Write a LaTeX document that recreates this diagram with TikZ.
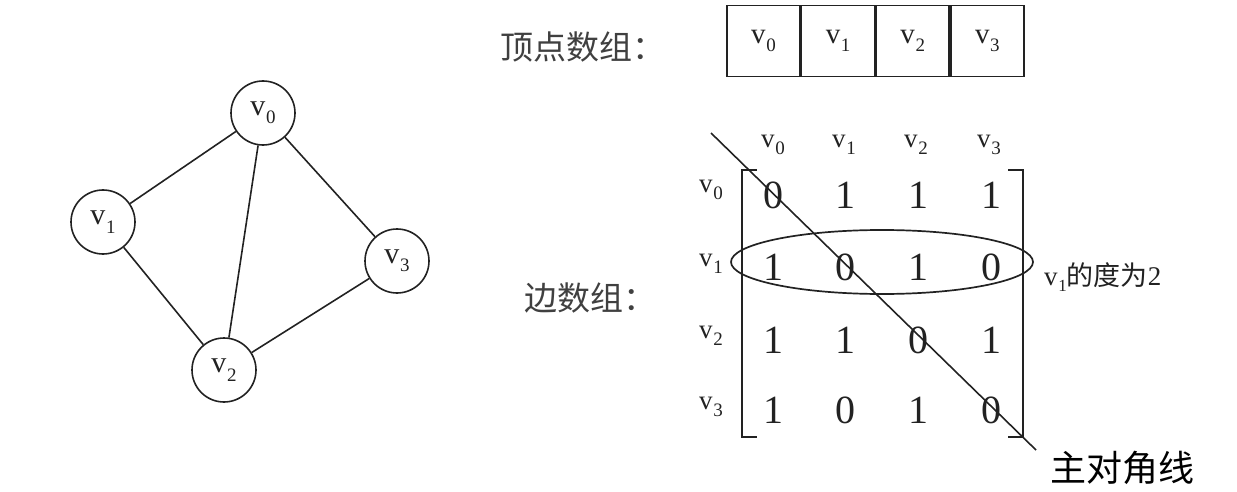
\documentclass[tikz,border=0pt]{standalone}
\usepackage{fontspec}
\setmainfont{Liberation Serif}
\newfontfamily\cjk{Noto Sans CJK SC}
\usetikzlibrary{shapes.geometric}
\definecolor{ink}{HTML}{222222}
\newcommand\vsub[1]{v\kern0.02em\raisebox{-0.28em}{\fontsize{19}{19}\selectfont #1}}
\tikzset{
  vert/.style={circle,draw=ink,line width=1.6pt,minimum size=64pt,inner sep=0pt,font=\fontsize{30}{30}\selectfont,text=ink},
  edge/.style={draw=ink,line width=1.6pt},
  cell/.style={rectangle,draw=ink,line width=1.6pt,minimum width=73pt,minimum height=71pt,inner sep=0pt,font=\fontsize{29}{29}\selectfont,text=ink},
  lab/.style={inner sep=0pt,font=\fontsize{27}{27}\selectfont,text=ink},
  ent/.style={inner sep=0pt,font=\fontsize{40}{40}\selectfont,text=ink},
  cn/.style={inner sep=0pt,font=\cjk\fontsize{33}{33}\selectfont,text=black!75},
}
\begin{document}
\begin{tikzpicture}[x=1pt,y=-1pt]
\useasboundingbox (0,0) rectangle (1237,492);
% graph
\node[vert] (g0) at (263,113) {\vsub{0}};
\node[vert] (g1) at (103,222) {\vsub{1}};
\node[vert] (g2) at (224,370) {\vsub{2}};
\node[vert] (g3) at (397,261) {\vsub{3}};
\draw[edge] (g0) -- (g1);
\draw[edge] (g0) -- (g2);
\draw[edge] (g0) -- (g3);
\draw[edge] (g1) -- (g2);
\draw[edge] (g2) -- (g3);
% vertex array
\node[cn,anchor=west] (t1) at (500,47) {顶点数组：};
\node[cell] (a0) at (763.5,41) {\vsub{0}};
\node[cell,anchor=west] (a1) at (a0.east) {\vsub{1}};
\node[cell,anchor=west] (a2) at (a1.east) {\vsub{2}};
\node[cell,anchor=west] (a3) at (a2.east) {\vsub{3}};
% edge matrix labels
\node[cn,anchor=west] (t2) at (524,298) {边数组：};
\node[lab] (c0) at (773,145) {\vsub{0}};
\node[lab] (c1) at (844,145) {\vsub{1}};
\node[lab] (c2) at (916,145) {\vsub{2}};
\node[lab] (c3) at (989,145) {\vsub{3}};
\node[lab] (r0) at (711,190) {\vsub{0}};
\node[lab] (r1) at (711,264) {\vsub{1}};
\node[lab] (r2) at (711,336) {\vsub{2}};
\node[lab] (r3) at (711,407) {\vsub{3}};
% entries
\foreach \r/\y/\vals in {0/195/{0,1,1,1},1/267/{1,0,1,0},2/340/{1,1,0,1},3/410/{1,0,1,0}}{
  \foreach \v [count=\c from 0] in \vals {
    \pgfmathsetmacro\xx{773+\c*72.7}
    \node[ent] (m\r\c) at (\xx,\y) {\v};
  }
}
% brackets
\draw[edge,line width=1.8pt] (757,170) -- (742,170) -- (742,437) -- (757,437);
\draw[edge,line width=1.8pt] (1008,170) -- (1023,170) -- (1023,437) -- (1008,437);
% ellipse
\node[ellipse,draw=ink,line width=1.7pt,minimum width=302pt,minimum height=64pt,inner sep=0pt] (ell) at (882,262) {};
% diagonal
\coordinate (d0) at (711,133);
\coordinate (d1) at (1036,450);
\draw[edge] (d0) -- (d1);
% notes
\node[inner sep=0pt,anchor=west,text=ink] (deg) at (1044,277) {\fontsize{27}{27}\selectfont v\kern0.02em\raisebox{-0.25em}{\fontsize{17}{17}\selectfont 1}{\cjk\fontsize{27}{27}\selectfont 的度为}2};
\node[inner sep=0pt,anchor=west,font=\cjk\fontsize{36}{36}\selectfont] (diag) at (1050,468) {主对角线};
\end{tikzpicture}
\end{document}
